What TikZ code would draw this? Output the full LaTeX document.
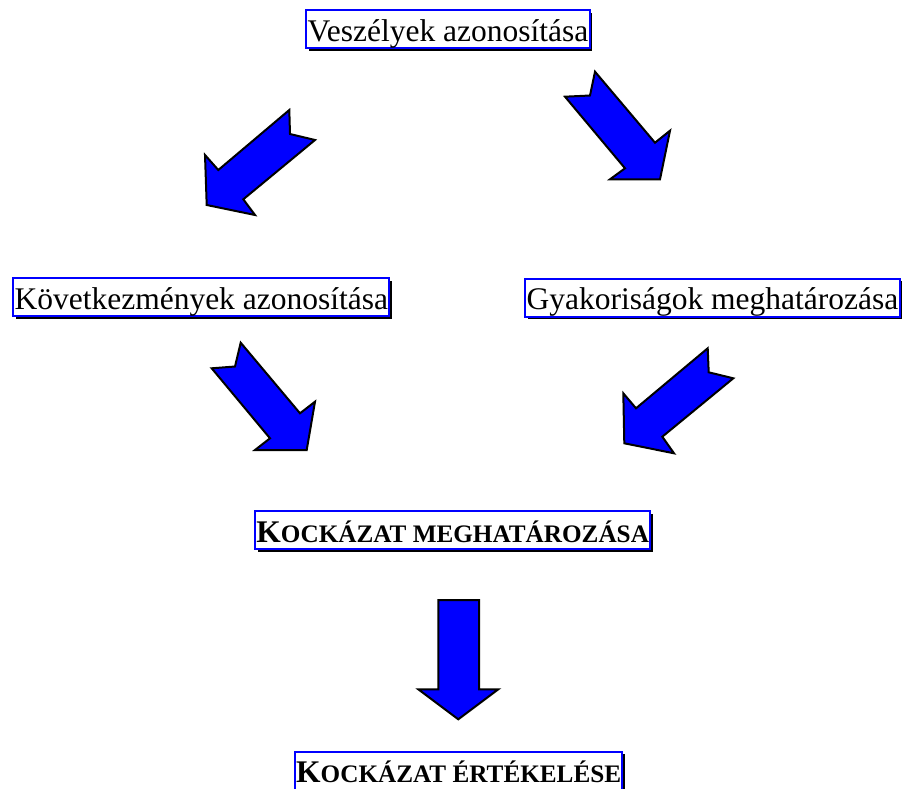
\documentclass[tikz,border=0pt]{standalone}
\usepackage{fontspec}
\setmainfont{Liberation Serif}
\usetikzlibrary{shadows}
% fake small capitals: full-size initial, smaller capitals after it
\newcommand\kisbetu[1]{{\fontsize{25.2}{30}\selectfont #1}}
\tikzset{
  lepes/.style={draw=blue, line width=2pt, fill=white,
    inner xsep=1.2pt, inner ysep=0pt, text height=31pt, text depth=7pt,
    font=\fontsize{31.5}{36}\selectfont,
    drop shadow={shadow xshift=2.5pt, shadow yshift=-2.5pt, fill=black, opacity=1}},
  eredmeny/.style={lepes, font=\fontsize{31.5}{36}\selectfont\bfseries},
  blokknyil/.style={fill=blue, draw=black, line width=2pt, line join=miter}
}
\begin{document}
\begin{tikzpicture}[x=1pt, y=-1pt]
\useasboundingbox (0,0) rectangle (907,789);
\clip (0,0) rectangle (907,789);

% process steps
\node[lepes] (vesz) at (448,29.2) {Veszélyek azonosítása};
\node[lepes] (kovet) at (201.3,297.3) {Következmények azonosítása};
\node[lepes] (gyak) at (712.5,297.5) {Gyakoriságok meghatározása};
\node[eredmeny] (kmeg) at (452.7,530.2) {K\kisbetu{OCKÁZAT MEGHATÁROZÁSA}};
\node[eredmeny] (kert) at (458.7,770.8) {K\kisbetu{OCKÁZAT ÉRTÉKELÉSE}};

% notched block arrows between the steps
\draw[blokknyil] (289.3,110) -- (290,134) -- (315,140) -- (243.3,199.3) -- (255,215)
  -- (206.7,205) -- (205,155) -- (218.3,170) -- cycle;
\draw[blokknyil] (595,71.7) -- (655,142.7) -- (670,130.7) -- (660,179.3) -- (610,179.3)
  -- (625,168.3) -- (565,96.7) -- (590,95.5) -- cycle;
\draw[blokknyil] (240.7,342.7) -- (300,413.3) -- (315,401.7) -- (306.7,450) -- (255,450)
  -- (270,438.3) -- (211.7,368.3) -- (235,366.5) -- cycle;
\draw[blokknyil] (707.7,348.3) -- (708.7,372.3) -- (733.3,378.3) -- (662.3,436.7) -- (674,453.3)
  -- (624.3,443.3) -- (623.3,393.3) -- (636,408.3) -- cycle;

% straight block arrow down to the evaluation
\draw[blokknyil] (438.3,600) -- (479,600) -- (479,689.3) -- (498.3,689.3) -- (458.3,719.3)
  -- (418.3,689.3) -- (438.3,689.3) -- cycle;
\end{tikzpicture}
\end{document}
